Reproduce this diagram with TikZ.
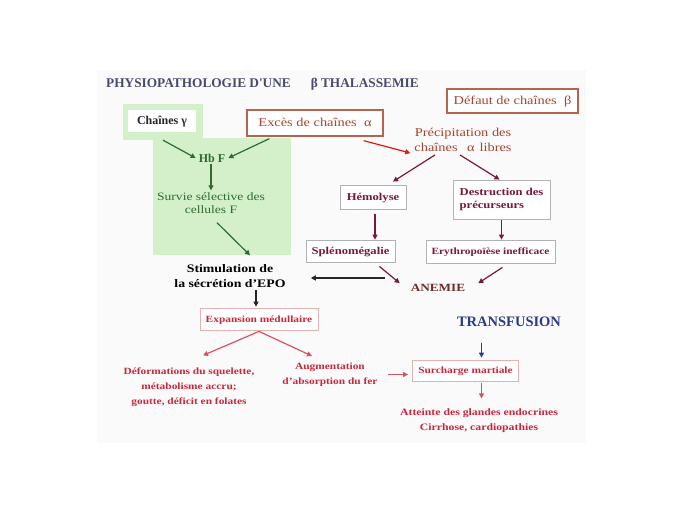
\documentclass[tikz,border=0pt]{standalone}
\usepackage{fontspec}
\setmainfont[FakeStretch=1.2]{Liberation Serif}
\newfontfamily\plainf{Liberation Serif}
\usetikzlibrary{arrows.meta,calc}
\definecolor{titleblue}{HTML}{4A4A6E}
\definecolor{brick}{HTML}{A8432F}
\definecolor{boxbrick}{HTML}{B5654F}
\definecolor{maroon}{HTML}{7A1838}
\definecolor{crim}{HTML}{C8283C}
\definecolor{dgreen}{HTML}{2E6B2E}
\definecolor{lgreen}{HTML}{D3F0CB}
\definecolor{navy}{HTML}{2A3A8C}
\definecolor{slide}{HTML}{FAFAFB}
\tikzset{
  x=1pt, y=-1pt,
  txt/.style={font=\fontsize{11}{13}\selectfont, align=center, inner sep=1pt},
  brickbox/.style={draw=boxbrick, line width=1.3pt, fill=white, text=brick, font=\fontsize{12}{13}\selectfont, inner sep=3pt, text depth=0.5pt},
  graybox/.style={draw=gray!60, line width=0.8pt, fill=white, text=maroon, font=\bfseries\fontsize{10.5}{13}\selectfont, inner sep=3pt, align=left},
  redbox/.style={draw=gray!50!red!40, line width=0.8pt, fill=white, text=crim, font=\bfseries\fontsize{9.5}{11}\selectfont, inner sep=3pt, text depth=0.5pt},
  redtxt/.style={txt, text=crim, font=\bfseries\fontsize{9.5}{15}\selectfont},
  arr/.style={-{Triangle[length=5pt,width=5pt]}, line width=1.2pt},
}
\begin{document}
\begin{tikzpicture}
\useasboundingbox (0,0) rectangle (689,517);
\fill[white] (0,0) rectangle (689,517);
\fill[slide] (97,70) rectangle (586,443);
% green areas
\fill[lgreen] (153,138) rectangle (291,255);
\fill[lgreen] (123,104) rectangle (203,140);
\node[fill=white, text=black!85, font=\plainf\bfseries\fontsize{12}{13}\selectfont, inner sep=3pt, minimum width=68pt, minimum height=22pt, text depth=0.5pt] (gam) at (162,121) {Chaînes γ};
% title
\node[text=titleblue, font=\plainf\bfseries\fontsize{13.3}{14}\selectfont, anchor=west, inner sep=0pt] (title) at (106,84) {PHYSIOPATHOLOGIE D'UNE\hspace{1.5em}β THALASSEMIE};
\node[brickbox, minimum width=131pt, minimum height=24pt] (def) at (512.5,101) {Défaut de chaînes\hspace{0.6em}β};
\node[brickbox, minimum width=136pt, minimum height=26pt] (exc) at (315,123) {Excès de chaînes\hspace{0.6em}α};
\node[txt, text=dgreen, font=\plainf\bfseries\fontsize{12}{14}\selectfont] (hbf) at (212,158) {Hb F};
\node[txt, text=dgreen, font=\fontsize{11.3}{13}\selectfont] (surv) at (211,203) {Survie sélective des\\cellules F};
\node[txt, text=black, font=\bfseries\fontsize{11.5}{15}\selectfont] (epo) at (230,276) {Stimulation de\\la sécrétion d'EPO};
\node[txt, text=brick, font=\fontsize{12}{15}\selectfont] (prec) at (463,140) {Précipitation des\\chaînes\hspace{0.8em}α\hspace{0.4em}libres};
\node[graybox, minimum width=66pt, minimum height=24pt, text depth=0.5pt] (hem) at (373,197) {Hémolyse};
\node[graybox, minimum width=97pt, minimum height=39pt] (des) at (501.5,199.5) {Destruction des\\précurseurs};
\node[graybox, minimum width=89pt, minimum height=22pt, text depth=0.5pt] (spl) at (350.5,251) {Splénomégalie};
\node[graybox, minimum width=129pt, minimum height=23pt, text depth=0.5pt, font=\bfseries\fontsize{9.5}{11}\selectfont] (ery) at (490.5,251.5) {Erythropoïèse inefficace};
\node[txt, text=brick!65!black, font=\bfseries\fontsize{11}{13}\selectfont] (anem) at (438,288) {ANEMIE};
\node[redbox, minimum width=118pt, minimum height=22pt] (exp) at (259,319) {Expansion médullaire};
\node[redtxt] (defo) at (189,387) {Déformations du squelette,\\métabolisme accru;\\goutte, déficit en folates};
\node[redtxt] (aug) at (330,375) {Augmentation\\d'absorption du fer};
\node[txt, text=navy, font=\plainf\bfseries\fontsize{14.5}{16}\selectfont] (tra) at (509,322) {TRANSFUSION};
\node[redbox, minimum width=106pt, minimum height=21pt] (sur) at (465.5,370.5) {Surcharge martiale};
\node[redtxt, font=\bfseries\fontsize{9.8}{15}\selectfont] (att) at (479,420.5) {Atteinte des glandes endocrines\\Cirrhose, cardiopathies};
% arrows
\draw[arr, dgreen] ($(gam.south)+(1,8)$) -- ($(hbf.west)+(-2,0)$);
\draw[arr, dgreen] ($(exc.south west)+(23,2)$) -- ($(hbf.east)+(2,0)$);
\draw[arr, dgreen] ($(hbf.south)+(-1,1)$) -- ($(surv.north)+(0,-1)$);
\draw[arr, dgreen] ($(surv.south)+(6,8)$) -- ($(epo.north)+(20,-8)$);
\draw[arr, red!70!brick] ($(exc.south east)+(-20,4)$) -- ($(prec.west)+(-3,13)$);
\draw[arr, maroon] ($(prec.south)+(-28,2)$) -- ($(hem.north)+(20,-3)$);
\draw[arr, maroon] ($(prec.south)+(-3,2)$) -- ($(des.north)+(-2,0)$);
\draw[arr, maroon] ($(hem.south)+(2,5)$) -- ($(spl.north -| hem.south)+(2,0)$);
\draw[arr, maroon] ($(des.south)+(0,1)$) -- (ery.north -| des.south);
\draw[arr, maroon] ($(spl.south east)+(-16,4)$) -- ($(anem.north west)+(-10,0)$);
\draw[arr, maroon] ($(ery.south)+(12,4)$) -- ($(anem.north east)+(12,0)$);
\draw[arr, black!85] ($(anem.west)+(-25,-10)$) -- ($(epo.east)+(24,2)$);
\draw[arr, black!85] ($(epo.south -| exp.north)+(-3,1)$) -- ($(exp.north)+(-3,-1)$);
\draw[arr, crim!80] ($(exp.south)+(0,1)$) -- ($(defo.north)+(14,-11)$);
\draw[arr, crim!80] ($(exp.south)+(0,1)$) -- ($(aug.north)+(-18,-6)$);
\draw[arr, crim!80] ($(sur.west)+(-24,4)$) -- ($(sur.west)+(-4,4)$);
\draw[arr, navy] ($(sur.north)+(16,-17)$) -- ($(sur.north)+(16,-2)$);
\draw[arr, crim!80] ($(sur.south)+(16,2)$) -- ($(sur.south)+(16,17)$);
\end{tikzpicture}
\end{document}
